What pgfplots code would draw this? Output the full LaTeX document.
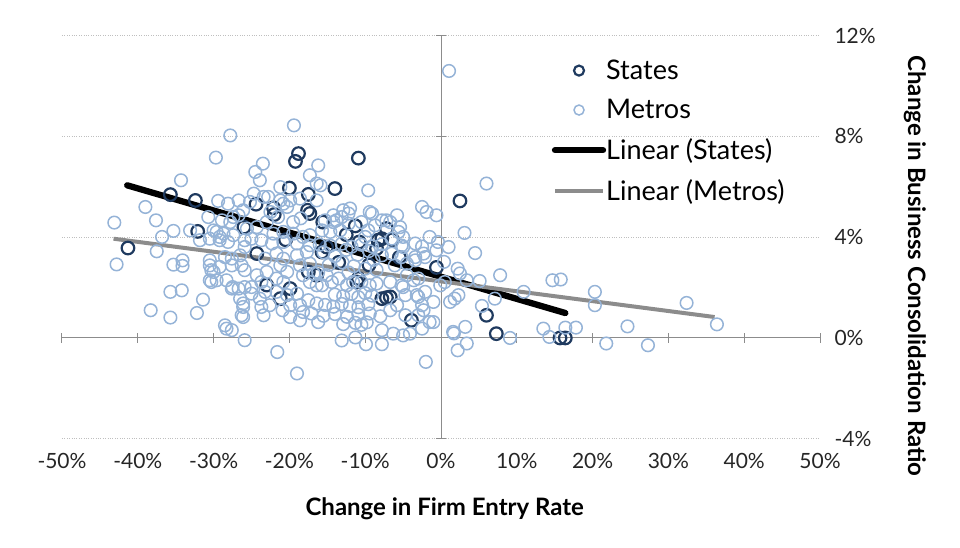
\documentclass[border=0pt]{standalone}
\usepackage{pgfplots}
\pgfplotsset{compat=1.18}
\usepackage{fontspec}
\setmainfont{Lato}

\definecolor{metro}{HTML}{95B3D7}
\definecolor{state}{HTML}{1F3A5F}
\definecolor{trendgray}{HTML}{8C8C8C}
\definecolor{axisgray}{HTML}{8C8C8C}
\definecolor{gridgray}{HTML}{BFBFBF}
\definecolor{labeltext}{HTML}{262626}

\pgfplotsset{
    markleg/.style={legend image code/.code={\draw[##1,mark size=5pt,mark repeat=2,mark phase=2] plot coordinates {(-24pt,0pt) (0pt,0pt) (24pt,0pt)};}},
    lineleg/.style={legend image code/.code={\draw[##1] (-24pt,0pt) -- (24pt,0pt);}},
}

\begin{document}
\begin{tikzpicture}
% frame of the picture (1pt = 1 pixel of the reference)
\path (-62pt,-109.3pt) rectangle (898pt,438.7pt);

% axis lines crossing at zero, with grid
\begin{axis}[
    width=758pt, height=403pt, scale only axis,
    xmin=-50, xmax=50, ymin=-4, ymax=12,
    axis lines=middle,
    axis line style={draw=axisgray, line width=1pt, -},
    xtick={-50,-40,...,50}, ytick={-4,0,4,8,12},
    xticklabels={}, yticklabels={},
    tick align=center, major tick length=10pt,
    tick style={axisgray, line width=1pt},
    ymajorgrids, grid style={gridgray, dotted, line width=0.9pt},
]
\addplot[draw=none] coordinates {(0,0)};
\end{axis}

\begin{axis}[
    width=758pt, height=403pt, scale only axis,
    xmin=-50, xmax=50, ymin=-4, ymax=12,
    axis line style={draw=none}, tick style={draw=none},
    xtick={-50,-40,...,50},
    xticklabels={-50\%,-40\%,-30\%,-20\%,-10\%,0\%,10\%,20\%,30\%,40\%,50\%},
    ytick={-4,0,4,8,12},
    yticklabels={-4\%,0\%,4\%,8\%,12\%},
    yticklabel pos=right,
    ticklabel style={font=\fontsize{21}{25}\selectfont, text=labeltext},
    xticklabel style={yshift=-11pt},
    yticklabel style={xshift=11pt},
    xlabel={Change in Firm Entry Rate},
    ylabel={Change in Business Consolidation Ratio},
    label style={font=\bfseries\fontsize{24}{28}\selectfont},
    xlabel style={at={(axis description cs:0.505,-0.1745)}, anchor=center},
    ylabel style={at={(axis description cs:1.1253,0.4286)}, anchor=center, rotate=180},
    legend cell align=left,
    legend style={at={(axis cs:14.6,11.12)}, anchor=north west, draw=none, fill=none,
        font=\fontsize{27}{32}\selectfont, inner sep=0pt, row sep=14.5pt,
        nodes={inner xsep=0pt}},
]

% States
\addplot[only marks, mark=o, mark size=6.3pt,
    mark options={draw=state, line width=2.2pt}, markleg]
coordinates {
(-41.3,3.57) (-35.7,5.69) (-32.4,5.46) (-32.1,4.23) (-24.4,5.31) (-24.3,3.35)
(-22.1,5.17) (-22.0,4.90) (-21.2,1.56) (-20.0,5.95) (-19.9,1.96) (-19.2,7.01)
(-18.8,7.32) (-17.6,5.07) (-17.5,5.70) (-17.3,4.94) (-17.5,2.62) (-16.4,2.49)
(-15.7,3.41) (-15.1,3.61) (-14.0,5.93) (-11.3,4.45) (-11.1,2.22) (-10.9,7.14)
(-10.9,2.36) (-10.8,3.81) (-8.5,3.55) (-8.3,3.88) (-7.8,3.94) (-7.8,1.56)
(-7.2,4.34) (-7.2,1.60) (-6.7,1.63) (-6.4,3.90) (-3.9,0.70) (-0.6,2.80)
(2.5,5.44) (6.0,0.90) (7.3,0.17) (15.7,0.0) (16.4,0.0)
(-13.5,3.0) (-20.5,3.9) (-26.0,4.4) (-12.5,4.1) (-9.5,2.9) (-5.5,3.2)
(-15.6,4.6) (-23.0,2.1)
};
\addlegendentry{States}

% Metros
\addplot[only marks, mark=o, mark size=6.3pt,
    mark options={draw=metro, line width=1.5pt}, markleg]
coordinates {
(-27.8,8.04) (-29.7,7.16) (-34.3,6.26) (-39.0,5.20) (-37.6,4.67) (-43.1,4.58)
(-35.3,4.25) (-33.1,4.27) (-37.5,3.44) (-42.8,2.92) (-36.8,4.01) (-35.3,2.91)
(-34.1,2.86) (-34.1,3.08) (-34.2,1.89) (-35.7,1.83) (-31.4,1.52) (-38.3,1.10)
(-35.7,0.81) (-32.2,0.99) (-29.4,5.44) (-30.7,4.80) (-29.6,4.21) (-29.2,4.01)
(-30.5,3.08) (-30.3,2.69) (-30.5,2.29) (-28.3,2.29) (-27.5,2.02) (-28.3,0.37)
(-27.6,0.31) (-26.1,0.83) (-26.1,1.37) (-25.9,-0.09)
(-19.4,8.44) (-16.2,6.85) (-23.5,6.92) (-24.5,6.59) (-23.9,6.26) (-17.3,6.46)
(-9.6,5.86) (-15.9,6.06) (-26.7,5.46) (-25.2,5.40) (-23.4,5.60) (-26.1,5.07)
(-27.4,4.80) (-21.2,5.46) (-20.8,5.33) (-12.9,5.07) (-12.2,4.94) (-12.0,5.14)
(-14.2,4.87) (-13.8,4.67) (-9.4,5.00) (-5.8,4.87) (-7.8,4.67) (-5.4,4.40)
(-2.5,5.20) (-1.9,5.00) (-0.6,4.87) (-1.5,4.01) (-2.3,3.35) (-3.4,3.21)
(-5.0,3.61)
(-16.4,6.13) (-21.2,5.99) (-24.7,5.73) (-22.8,5.60) (-28.1,5.33) (-26.7,4.87)
(-19.9,5.46) (-20.3,5.20) (-18.6,5.53) (-28.9,4.67) (-27.8,4.60) (-30.0,4.27)
(-28.7,4.14) (-27.4,4.08) (-25.6,4.34) (-24.3,4.40) (-31.8,3.88) (-30.5,3.94)
(-29.2,3.88) (-28.1,3.81) (-25.9,3.88) (-25.0,3.94) (-25.9,3.61) (-22.1,4.14)
(-20.8,4.21) (-19.5,4.14) (-18.2,4.01) (-17.3,4.08) (-23.7,3.88) (-22.3,3.75)
(-20.8,3.81) (-19.0,3.75) (-17.3,3.68)
(-16.4,5.46) (-13.1,4.80) (-9.1,4.94) (-6.7,4.60) (-15.3,4.67) (-14.2,4.60)
(-15.7,4.27) (-14.6,4.21) (-13.3,4.27) (-12.2,4.54) (-10.5,4.60) (-9.6,4.27)
(-8.7,4.47) (-10.0,4.01) (-5.6,4.21) (-5.0,4.01) (-6.5,3.94) (-0.4,3.81)
(-16.0,3.70) (-14.6,3.66) (-13.1,3.74) (-11.8,3.62) (-10.5,3.70) (-9.1,3.64)
(-7.8,3.72) (-5.2,3.67) (-3.4,3.75) (-2.5,3.63)
(-30.5,2.88) (-30.0,2.62) (-29.2,2.82) (-30.3,2.22) (-29.6,2.29) (-28.5,3.21)
(-27.6,3.15) (-27.6,2.88) (-26.5,3.28) (-26.3,2.88) (-25.9,2.69) (-27.6,1.96)
(-26.7,1.96) (-25.9,2.02) (-25.0,2.02) (-26.5,1.56) (-26.1,1.23) (-26.3,0.90)
(-28.5,0.50) (-23.2,3.15) (-23.0,2.62) (-24.3,2.49) (-23.7,2.22) (-25.0,1.76)
(-23.9,1.56) (-23.2,1.83) (-23.7,1.23) (-22.6,1.30) (-23.4,0.90) (-21.7,3.35)
(-20.8,3.15) (-21.2,2.88) (-20.3,2.62) (-21.7,2.36) (-20.8,2.22) (-21.7,1.83)
(-20.3,1.70) (-19.0,1.76) (-19.9,1.30) (-20.9,1.10) (-18.6,1.30) (-19.9,0.83)
(-18.6,0.70) (-18.2,1.03) (-19.0,3.28) (-17.7,3.41) (-18.6,2.88) (-17.3,2.95)
(-18.2,2.49) (-16.8,2.56) (-17.3,2.22) (-16.4,2.09) (-17.5,1.50) (-16.4,1.37)
(-17.1,0.97) (-16.2,0.63)
(-16.2,2.62) (-15.1,2.49) (-15.7,2.09) (-14.4,2.22) (-13.5,2.36) (-12.4,2.09)
(-11.6,2.22) (-10.5,2.22) (-9.4,2.09) (-8.5,2.16)
(-14.0,1.72) (-12.9,1.66) (-11.8,1.75) (-10.9,1.62) (-10.0,1.78) (-9.1,1.68)
(-15.3,1.31) (-14.2,1.24) (-13.1,1.35) (-12.0,1.27) (-10.9,1.22) (-9.6,1.34)
(-15.5,0.88) (-14.0,0.95) (-12.4,0.84) (-10.9,0.92) (-9.4,0.97) (-8.0,0.86)
(-12.9,0.55) (-11.3,0.60) (-10.5,0.52) (-9.8,0.62) (-11.3,0.02) (-13.1,-0.10)
(-7.8,3.28) (-6.5,3.35) (-5.2,3.21) (-6.1,2.88) (-4.5,2.95) (-3.4,3.08)
(-2.1,3.21) (-6.7,2.22) (-5.2,2.09) (-4.5,2.49) (-3.0,2.36) (-3.2,1.70)
(-2.1,1.83) (-4.7,1.70) (-5.8,1.30) (-6.7,1.10) (-4.7,0.90) (-3.0,0.90)
(-1.5,0.63) (-2.5,1.30) (-1.0,1.43) (-0.1,2.09) (-7.8,0.31) (-6.3,0.17)
(-4.1,0.17) (-2.5,0.37)
(-15.5,3.40) (-14.0,3.25) (-12.5,3.50) (-11.0,3.30) (-9.5,3.45) (-13.0,3.00)
(-11.5,2.85) (-10.0,2.75) (-8.5,2.70) (-14.8,2.90) (-12.2,2.60) (-8.9,3.10)
(-23.0,4.60) (-21.5,4.80) (-22.5,5.00) (-19.5,4.60) (-18.5,4.75)
(-21.6,-0.56) (-19.0,-1.41) (-9.9,-0.25) (-7.8,-0.25) (-5.0,0.10) (-2.0,-0.95)
(2.2,-0.49) (3.4,-0.22) (1.7,0.18) (9.1,0.0) (13.5,0.37) (14.3,0.04)
(16.4,0.41) (17.8,0.41) (21.8,-0.22) (24.6,0.46) (27.3,-0.29) (36.4,0.54)
(1.06,10.6) (6.0,6.13) (3.1,4.17) (-7.2,4.67) (-0.6,3.48) (1.0,3.61)
(4.5,3.37) (7.8,2.49) (0.4,3.02) (2.2,2.75) (0.5,2.22) (5.1,2.26)
(10.9,1.83) (14.7,2.29) (15.8,2.32) (20.3,1.83) (20.3,1.30) (32.4,1.39)
(1.8,1.56) (1.2,1.43) (2.3,1.70) (5.4,1.27) (7.1,1.56) (3.2,0.44)
(1.6,0.24) (-1.0,0.63) (-2.3,1.10) (-3.0,1.63) (-3.6,2.29) (-5.0,2.02)
(2.5,2.56) (3.4,2.29)
};
\addlegendentry{Metros}

% Trend lines
\addplot[black, line width=6.3pt, line cap=round, lineleg]
coordinates {(-41.4,6.06) (16.4,0.99)};
\addlegendentry{Linear (States)}

\addplot[trendgray, line width=4pt, lineleg]
coordinates {(-43.2,3.94) (36.1,0.83)};
\addlegendentry{Linear (Metros)}

\end{axis}
\end{tikzpicture}
\end{document}
